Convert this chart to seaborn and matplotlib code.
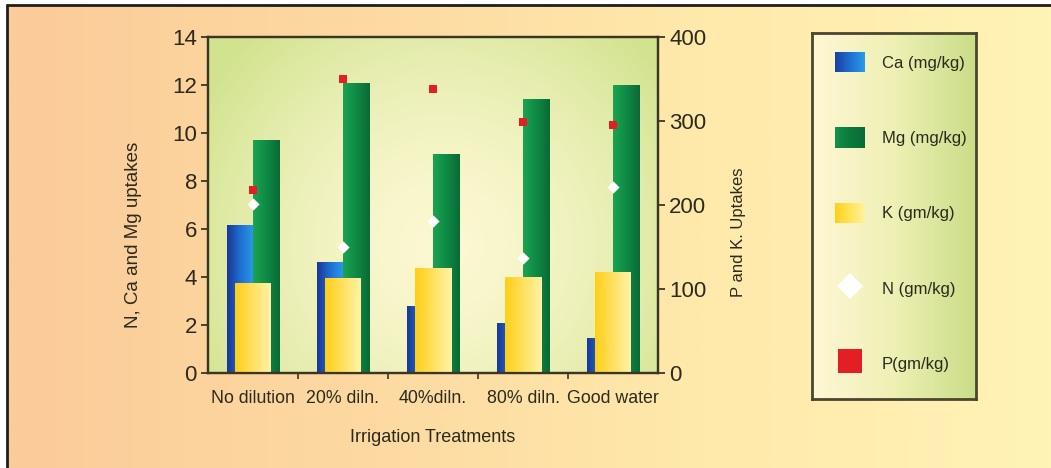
import numpy as np
import pandas as pd
import matplotlib
matplotlib.use("Agg")
import matplotlib.pyplot as plt
import seaborn as sns
from matplotlib.colors import LinearSegmentedColormap, to_rgb
from matplotlib.legend_handler import HandlerBase
from matplotlib.patches import Rectangle
from matplotlib.lines import Line2D

# ---- data -------------------------------------------------------------
treatments = ["No dilution", "20% diln.", "40%diln.", "80% diln.", "Good water"]
ca_mgkg = [6.15, 4.62, 2.78, 2.08, 1.42]      # left axis
mg_mgkg = [9.70, 12.08, 9.10, 11.38, 11.96]   # left axis
n_gmkg = [7.05, 5.25, 6.33, 4.80, 7.75]       # left axis
k_gmkg = [107, 113, 125, 114, 120]            # right axis
p_gmkg = [218, 350, 338, 299, 295]            # right axis

left_ticks = [0, 2, 4, 6, 8, 10, 12, 14]
right_ticks = [0, 100, 200, 300, 400]

# ---- style ------------------------------------------------------------
sns.set_theme(style="ticks")
plt.rcParams["font.family"] = ["Liberation Sans", "DejaVu Sans"]
TXT = "#2a2a1e"
SPINE = "#3b3624"

CA_COLS = ["#1a3796", "#1f6fd2", "#2a9be8"]
MG_COLS = ["#1ba352", "#0f8a45", "#0a6a35"]
K_COLS = ["#ffcf17", "#ffe060", "#fff3a8"]
N_COL = "#ffffff"
P_COL = "#e31e24"

W, H = 1051, 468
fig = plt.figure(figsize=(W / 100, H / 100), dpi=100, facecolor="white")


def px_rect(x0, y0, x1, y1):
    """Figure rectangle from pixel corners (top-left origin)."""
    return [x0 / W, 1 - y1 / H, (x1 - x0) / W, (y1 - y0) / H]


def hgrad(colors):
    return LinearSegmentedColormap.from_list("g", colors)


# page background: warm horizontal gradient with a dark frame
bg = fig.add_axes(px_rect(7, 5, W, H), zorder=-10)
bg.imshow(np.linspace(0, 1, 512)[None, :], aspect="auto", extent=[0, 1, 0, 1],
          cmap=hgrad(["#fbcb99", "#fdd9a1", "#ffe9ab", "#fff3b6"]))
bg.set_axis_off()
fig.add_artist(Line2D([6.5 / W, 6.5 / W], [0, 1 - 4.5 / H], color="#1e1e1e",
                      lw=2.0, transform=fig.transFigure))
fig.add_artist(Line2D([6.5 / W, 1], [1 - 4.5 / H, 1 - 4.5 / H], color="#1e1e1e",
                      lw=2.0, transform=fig.transFigure))

# plot-area background: soft radial glow from pale cream to light green
plot_rect = px_rect(208, 37, 658, 373)
pa = fig.add_axes(plot_rect, zorder=-5)
yy, xx = np.mgrid[0:1:300j, 0:1:450j]
d = np.sqrt(((xx - 0.52) / 0.62) ** 2 + ((yy - 0.62) / 0.85) ** 2)
t = np.clip(d, 0, 1) ** 1.6
c_in, c_out = np.array(to_rgb("#fcf8d2")), np.array(to_rgb("#d2e38f"))
img = c_in[None, None, :] * (1 - t[..., None]) + c_out[None, None, :] * t[..., None]
pa.imshow(img, aspect="auto", extent=[0, 1, 0, 1])
pa.set_axis_off()

# ---- main axes: Ca and Mg bars on the left scale ------------------------
ax = fig.add_axes(plot_rect)
ax.set_facecolor("none")

df_left = pd.DataFrame({
    "Treatment": treatments * 2,
    "Element": ["Ca (mg/kg)"] * len(treatments) + ["Mg (mg/kg)"] * len(treatments),
    "Uptake": ca_mgkg + mg_mgkg,
})
sns.barplot(data=df_left, x="Treatment", y="Uptake", hue="Element",
            order=treatments, palette=[CA_COLS[1], MG_COLS[1]], width=0.58,
            saturation=1, errorbar=None, legend=False, ax=ax)


def shade_bars(axis, container, colors, z):
    cmap = hgrad(colors)
    for bar in container:
        x0, y0 = bar.get_x(), bar.get_y()
        w, h = bar.get_width(), bar.get_height()
        axis.imshow(np.linspace(0, 1, 64)[None, :], cmap=cmap, aspect="auto",
                    extent=[x0, x0 + w, y0, y0 + h], zorder=z)
        bar.set_visible(False)


shade_bars(ax, ax.containers[0], CA_COLS, 2)
shade_bars(ax, ax.containers[1], MG_COLS, 2)

# N markers on the left scale
sns.stripplot(x=treatments, y=n_gmkg, order=treatments, jitter=False, marker="D",
              size=6.2, color=N_COL, linewidth=0, zorder=6, ax=ax)

# ---- twin axes: K bars and P markers on the right scale ----------------
ax2 = ax.twinx()
sns.barplot(x=treatments, y=k_gmkg, order=treatments, color=K_COLS[1], width=0.40,
            saturation=1, errorbar=None, ax=ax2)
shade_bars(ax2, ax2.containers[0], K_COLS, 2)
sns.stripplot(x=treatments, y=p_gmkg, order=treatments, jitter=False, marker="s",
              size=6.0, color=P_COL, linewidth=0, zorder=6, ax=ax2)

# ---- scales, ticks, spines ----------------------------------------------
ax.set_xlim(-0.5, len(treatments) - 0.5)
ax.set_ylim(0, 14)
ax2.set_ylim(0, 400)
ax.set_yticks(left_ticks)
ax2.set_yticks(right_ticks)
ax.set_xticks(range(len(treatments)))
ax.set_xticklabels(treatments)
ax.set_xticks(np.arange(0.5, len(treatments) - 1, 1.0), minor=True)

ax.tick_params(axis="x", which="major", length=0, pad=12, labelsize=12.8, colors=TXT)
ax.tick_params(axis="x", which="minor", length=4, width=1.2, direction="out", color=SPINE)
ax.tick_params(axis="y", length=5, width=1.3, direction="out", labelsize=16,
               colors=TXT, color=SPINE, pad=3)
ax2.tick_params(axis="y", length=5, width=1.3, direction="out", labelsize=16,
                colors=TXT, color=SPINE, pad=3)
ax2.tick_params(axis="x", which="both", length=0)

for a in (ax, ax2):
    for s in a.spines.values():
        s.set_visible(True)
        s.set_color(SPINE)
        s.set_linewidth(1.6)
    a.grid(False)

ax.set_xlabel("Irrigation Treatments", fontsize=13, color=TXT, labelpad=16)
ax.set_ylabel("N, Ca and Mg uptakes", fontsize=13.5, color=TXT)
ax2.set_ylabel("P and K. Uptakes", fontsize=12, color=TXT)
ax.yaxis.set_label_coords(-0.147, 0.41)
ax2.yaxis.set_label_coords(1.162, 0.42)

# ---- legend panel ------------------------------------------------------
lg = fig.add_axes(px_rect(812, 33, 976, 399))
lg.imshow(np.linspace(0, 1, 256)[None, :], aspect="auto", extent=[0, 1, 0, 1],
          cmap=hgrad(["#fff7d6", "#eef0b4", "#cadd88"]))
lg.set_xticks([])
lg.set_yticks([])
for s in lg.spines.values():
    s.set_color("#4a4630")
    s.set_linewidth(2.0)


class GradientSwatch(HandlerBase):
    def __init__(self, colors):
        super().__init__()
        self.cmap = hgrad(colors)

    def create_artists(self, legend, orig_handle, xdescent, ydescent, width,
                       height, fontsize, trans):
        n = 30
        return [Rectangle((-xdescent + width * i / n, -ydescent), width / n * 1.05,
                          height, facecolor=self.cmap((i + 0.5) / n),
                          edgecolor="none", transform=trans) for i in range(n)]


h_ca, h_mg, h_k = Rectangle((0, 0), 1, 1), Rectangle((0, 0), 1, 1), Rectangle((0, 0), 1, 1)
h_n = Line2D([], [], ls="none", marker="D", markersize=13.5, color=N_COL, mew=0)
h_p = Line2D([], [], ls="none", marker="s", markersize=17, color=P_COL, mew=0)
lg.legend([h_ca, h_mg, h_k, h_n, h_p],
          ["Ca (mg/kg)", "Mg (mg/kg)", "K (gm/kg)", "N (gm/kg)", "P(gm/kg)"],
          handler_map={h_ca: GradientSwatch(["#1a3fa0", "#1e6fd0", "#2a9be8"]),
                       h_mg: GradientSwatch(["#13904a", "#0b7a3c", "#0a6a35"]),
                       h_k: GradientSwatch(["#ffcf17", "#ffe45a", "#fff1a0"])},
          loc="upper left", bbox_to_anchor=(0.14, 0.948), frameon=False,
          fontsize=12, handlelength=1.8, handleheight=1.5, handletextpad=1.0,
          labelspacing=3.3, borderpad=0, borderaxespad=0, labelcolor=TXT)

fig.savefig("out.png", dpi=100, facecolor="white")
